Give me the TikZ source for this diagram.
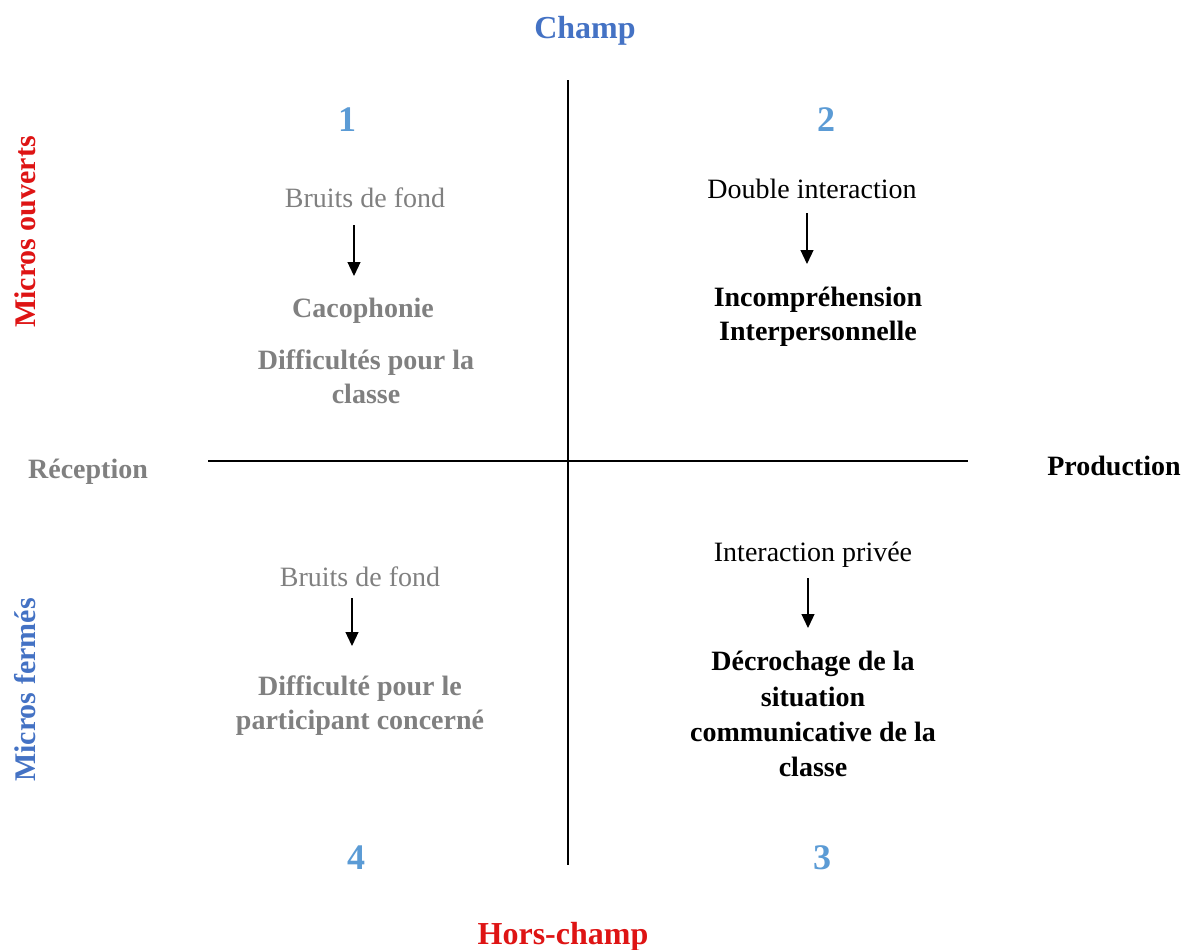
\documentclass[tikz,border=0pt]{standalone}
\usepackage{fontspec}
\setmainfont{Liberation Serif}
\usepackage{tikz}
\usetikzlibrary{arrows.meta}
\definecolor{champblue}{RGB}{68,114,196}
\definecolor{numblue}{RGB}{91,155,213}
\definecolor{micred}{RGB}{222,20,20}
\definecolor{txtgray}{RGB}{128,128,128}

\begin{document}
\begin{tikzpicture}[x=0.5pt,y=-0.5pt]
      \tikzstyle{every node}=[inner sep=0pt,align=center,font=\fontsize{14}{17}\selectfont]
      \tikzstyle{head}=[font=\fontsize{16}{19}\selectfont\bfseries]
      \tikzstyle{side}=[font=\fontsize{15}{18}\selectfont\bfseries,rotate=90]
      \tikzstyle{num}=[font=\fontsize{18}{21}\selectfont\bfseries,text=numblue,anchor=base]
      \tikzstyle{effect}=[font=\fontsize{14}{17}\selectfont\bfseries]
      \tikzstyle{axis}=[line width=0.65pt]
      \tikzstyle{arr}=[-{Triangle[width=6.5pt,length=7pt]},line width=0.6pt]

      \useasboundingbox (0,0) rectangle (1184,949);

      \node[head,text=champblue,anchor=base] (champ) at (585,38) {Champ};
      \node[head,text=micred,anchor=base] (hors) at (563,944) {Hors-champ};
      \node[side,text=micred] (ouverts) at (25,232) {Micros ouverts};
      \node[side,text=champblue] (fermes) at (25,690) {Micros fermés};
      \node[effect,text=txtgray,anchor=base] (recep) at (88,478) {Réception};
      \node[effect,anchor=base] (prod) at (1114,475) {Production};

      \node[num] (n1) at (347,131) {1};
      \node[num] (n2) at (826,131) {2};
      \node[num] (n3) at (822,869) {3};
      \node[num] (n4) at (356,869) {4};

      \coordinate (vtop) at (568,80);
      \coordinate (vbot) at (568,865);
      \coordinate (hleft) at (208,461);
      \coordinate (hright) at (968,461);

      \draw[axis] (vtop) -- (vbot);
      \draw[axis] (hleft) -- (hright);

      % quadrant 1
      \node[text=txtgray,anchor=base] (bruit1) at (365,207) {Bruits de fond};
      \node[effect,text=txtgray,anchor=base] (caco) at (363,317) {Cacophonie};
      \node[effect,text=txtgray] (diffcl) at (366,377) {Difficultés pour la\\classe};
      \coordinate (a1s) at (354,225);
      \coordinate (a1e) at (354,276);

      % quadrant 2
      \node[anchor=base] (double) at (812,198) {Double interaction};
      \node[effect] (incomp) at (818,317) {Incompréhension\\Interpersonnelle};
      \coordinate (a2s) at (807,213);
      \coordinate (a2e) at (807,264);

      % quadrant 3
      \node[anchor=base] (privee) at (813,561) {Interaction privée};
      \node[effect,font=\fontsize{14}{17.6}\selectfont\bfseries] (decro) at (813,714) {Décrochage de la\\situation\\communicative de la\\classe};
      \coordinate (a3s) at (808,578);
      \coordinate (a3e) at (808,628);

      % quadrant 4
      \node[text=txtgray,anchor=base] (bruit4) at (360,586) {Bruits de fond};
      \node[effect,text=txtgray] (diffpa) at (360,706) {Difficulté pour le\\participant concerné};
      \coordinate (a4s) at (352,598);
      \coordinate (a4e) at (352,646);

      \draw[arr] (a1s) -- (a1e);
      \draw[arr] (a2s) -- (a2e);
      \draw[arr] (a3s) -- (a3e);
      \draw[arr] (a4s) -- (a4e);

    \end{tikzpicture}
\end{document}
